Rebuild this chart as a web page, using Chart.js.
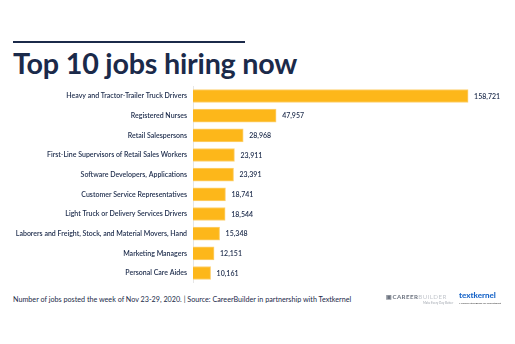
<!DOCTYPE html>
<html>
<head>
<meta charset="utf-8">
<script src="https://cdn.jsdelivr.net/npm/chart.js@4"></script>
<style>
  html, body { margin: 0; padding: 0; background: #fff; width: 515px; height: 344px; overflow: hidden; }
  body { position: relative; font-family: Lato, "Open Sans", sans-serif; color: #1b2a4a; }
  #rule { position: absolute; left: 13px; top: 41px; width: 232px; height: 2px; background: #1b2a4a; }
  #title { position: absolute; left: 13px; top: 46px; font-size: 28.7px; font-weight: 700; letter-spacing: -0.2px; white-space: nowrap; }
  #wrap { position: absolute; left: 0; top: 76px; width: 515px; height: 217px; }
  #footer { position: absolute; left: 13px; top: 295px; font-size: 7.2px; white-space: nowrap; }
  #cb { position: absolute; left: 386px; top: 293px; font-size: 6.2px; color: #c4c8ce; letter-spacing: 0.4px; white-space: nowrap; }
  #cb b { color: #6d7480; font-weight: 700; }
  #cbtag { position: absolute; left: 423px; top: 301px; font-size: 3px; color: #a0a6ae; white-space: nowrap; }
  #tk { position: absolute; left: 459px; top: 290px; font-size: 8px; font-weight: 900; color: #1a66c9; white-space: nowrap; }
  #tktag { position: absolute; left: 459px; top: 301px; font-size: 2.6px; color: #333; white-space: nowrap; }
</style>
</head>
<body>
<div id="rule"></div>
<div id="title">Top 10 jobs hiring now</div>
<div id="wrap"><canvas id="c"></canvas></div>
<div id="footer">Number of jobs posted the week of Nov 23-29, 2020. | Source: CareerBuilder in partnership with Textkernel</div>
<div id="cb"><b>&#9635;CAREER</b>BUILDER</div>
<div id="cbtag">Make Every Day Better</div>
<div id="tk">textkernel</div>
<div id="tktag">Machine Intelligence for Recruitment</div>
<script>
const categories = [
  "Heavy and Tractor-Trailer Truck Drivers",
  "Registered Nurses",
  "Retail Salespersons",
  "First-Line Supervisors of Retail Sales Workers",
  "Software Developers, Applications",
  "Customer Service Representatives",
  "Light Truck or Delivery Services Drivers",
  "Laborers and Freight, Stock, and Material Movers, Hand",
  "Marketing Managers",
  "Personal Care Aides"
];
const jobPostings = [158721, 47957, 28968, 23911, 23391, 18741, 18544, 15348, 12151, 10161];

const valueLabels = {
  id: 'valueLabels',
  afterDatasetsDraw(chart) {
    const ctx = chart.ctx;
    const meta = chart.getDatasetMeta(0);
    ctx.save();
    ctx.font = '600 7px Lato';
    ctx.fillStyle = '#1b2a4a';
    ctx.textBaseline = 'middle';
    ctx.textAlign = 'left';
    meta.data.forEach((bar, i) => {
      ctx.fillText(jobPostings[i].toLocaleString('en-US'), bar.x + 6, bar.y + 0.5);
    });
    ctx.restore();
  }
};

new Chart(document.getElementById('c'), {
  type: 'bar',
  data: {
    labels: categories,
    datasets: [{
      data: jobPostings,
      backgroundColor: '#fdb71a',
      borderColor: '#fdd172',
      borderWidth: 1,
      borderSkipped: 'left',
      barThickness: 13
    }]
  },
  options: {
    indexAxis: 'y',
    responsive: true,
    maintainAspectRatio: false,
    animation: false,
    events: [],
    layout: { padding: { left: 0, right: 10, top: 2, bottom: 4 } },
    plugins: { legend: { display: false }, tooltip: { enabled: false } },
    scales: {
      x: {
        min: 0,
        max: 180000,
        display: false,
        grid: { display: false }
      },
      y: {
        afterFit(scale) { scale.width = 193; },
        grid: { display: false, drawTicks: false },
        border: { display: true, color: '#e6e6e6', width: 1 },
        ticks: {
          padding: 6,
          color: '#1b2a4a',
          font: { family: 'Lato', size: 7, weight: '600' }
        }
      }
    }
  },
  plugins: [valueLabels]
});
</script>
</body>
</html>
